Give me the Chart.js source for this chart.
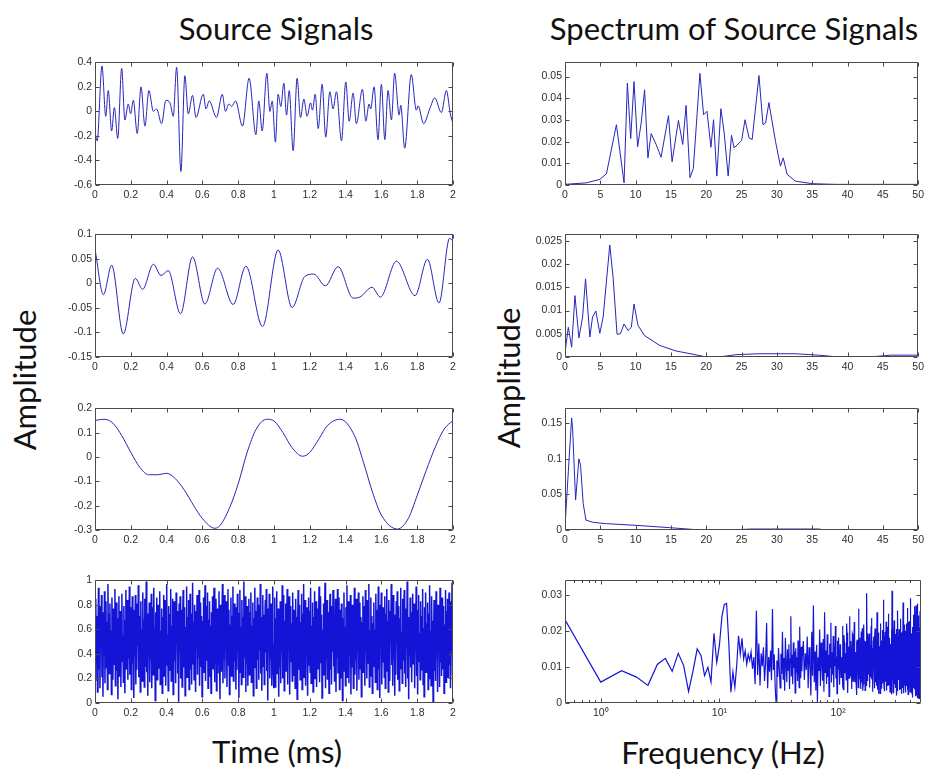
<!DOCTYPE html>
<html>
<head>
<meta charset="utf-8">
<title>Source Signals</title>
<script src="https://cdn.jsdelivr.net/npm/chart.js@4.4.1/dist/chart.umd.min.js"></script>
<style>
  html, body { margin: 0; padding: 0; background: #fff; }
  body { position: relative; width: 928px; height: 769px; overflow: hidden; }
  canvas { position: absolute; }
  .txt {
    position: absolute;
    font-family: Lato, "Open Sans", sans-serif;
    color: #111;
    white-space: nowrap;
    line-height: 1;
    transform: translate(-50%, -50%);
  }
  .big { font-size: 31px; }
  .vert { transform: translate(-50%, -50%) rotate(-90deg); }
</style>
</head>
<body>

<div class="txt big" style="left:276px; top:28px;">Source Signals</div>
<div class="txt big" style="left:734px; top:28px;">Spectrum of Source Signals</div>
<div class="txt big vert" style="left:24px; top:380px;">Amplitude</div>
<div class="txt big vert" style="left:508px; top:378px;">Amplitude</div>
<div class="txt big" style="left:277px; top:751px;">Time (ms)</div>
<div class="txt big" style="left:723px; top:752px;">Frequency (Hz)</div>

<canvas id="sig1"></canvas>
<canvas id="sig2"></canvas>
<canvas id="sig3"></canvas>
<canvas id="sig4"></canvas>
<canvas id="spec1"></canvas>
<canvas id="spec2"></canvas>
<canvas id="spec3"></canvas>
<canvas id="spec4"></canvas>

<script>
// ---- source 1: fast oscillating signal
const sig1Time = [0,0.012,0.039,0.06,0.074,0.093,0.108,0.127,0.149,0.167,0.186,0.199,0.214,0.236,0.257,0.279,0.301,0.326,0.344,0.372,0.396,0.419,0.437,0.456,0.48,0.502,0.521,0.545,0.564,0.605,0.62,0.638,0.679,0.711,0.729,0.748,0.763,0.785,0.824,0.861,0.899,0.915,0.934,0.96,0.977,0.99,1.008,1.023,1.038,1.055,1.07,1.085,1.107,1.129,1.148,1.167,1.185,1.204,1.215,1.23,1.247,1.269,1.289,1.312,1.33,1.349,1.377,1.401,1.42,1.442,1.46,1.494,1.513,1.531,1.54,1.559,1.581,1.6,1.619,1.637,1.656,1.674,1.699,1.708,1.73,1.767,1.795,1.805,1.836,1.87,1.898,1.935,1.963,1.985,2.0];
const sig1Amp = [-0.17,-0.24,0.37,-0.04,0.17,-0.16,0.03,-0.22,0.35,-0.07,0.06,-0.02,0.09,-0.18,0.2,-0.12,0.17,0.0,0.02,-0.1,0.09,0.07,-0.04,0.36,-0.49,0.29,-0.02,0.13,-0.05,0.14,0.02,0.085,-0.05,0.14,0.0,0.06,0.04,0.085,-0.12,0.27,-0.19,0.085,-0.16,0.31,0.0,0.085,-0.25,0.14,0.04,0.23,-0.03,0.17,-0.32,0.27,-0.05,0.1,-0.04,0.07,0.01,0.14,-0.14,0.22,-0.21,0.16,0.02,0.16,-0.24,0.24,-0.08,0.15,-0.1,0.18,-0.08,0.06,0.02,0.2,-0.23,0.22,-0.23,0.17,-0.07,0.31,-0.03,0.05,-0.3,0.3,0.01,0.045,-0.1,0.02,0.11,-0.01,0.17,-0.02,-0.1];

// ---- source 2: slower wobble
const sig2Time = [0,0.047,0.093,0.158,0.225,0.266,0.326,0.369,0.409,0.478,0.545,0.614,0.685,0.772,0.843,0.936,1.023,1.101,1.172,1.222,1.287,1.358,1.442,1.479,1.548,1.594,1.684,1.788,1.857,1.922,1.981,2.0];
const sig2Amp = [0.07,-0.023,0.037,-0.103,0.01,-0.012,0.039,0.016,0.026,-0.062,0.054,-0.042,0.031,-0.043,0.035,-0.088,0.068,-0.049,0.014,0.019,-0.005,0.034,-0.03,-0.028,-0.008,-0.028,0.045,-0.025,0.049,-0.04,0.092,0.086];

// ---- source 3: low frequency
const sig3Time = [0,0.05,0.1,0.15,0.2,0.25,0.3,0.35,0.4,0.45,0.5,0.55,0.6,0.67,0.7,0.75,0.8,0.85,0.9,0.96,1.0,1.05,1.1,1.16,1.2,1.25,1.3,1.37,1.45,1.5,1.55,1.6,1.69,1.75,1.8,1.85,1.9,1.95,2.0];
const sig3Amp = [0.15,0.155,0.139,0.087,0.019,-0.042,-0.073,-0.073,-0.067,-0.09,-0.137,-0.198,-0.253,-0.293,-0.28,-0.212,-0.11,0.019,0.114,0.155,0.148,0.1,0.039,0.003,0.019,0.073,0.13,0.155,0.087,-0.022,-0.144,-0.239,-0.296,-0.253,-0.158,-0.056,0.039,0.114,0.15];

// ---- source 4: uniform noise, equally spaced over 0..2 ms
const noiseAmp = [
  0.62,0.18,0.85,0.33,0.71,0.09,0.56,0.94,0.27,0.68,
  0.12,0.79,0.45,0.88,0.21,0.63,0.05,0.74,0.38,0.91,
  0.16,0.57,0.83,0.29,0.66,0.11,0.97,0.42,0.73,0.24,
  0.81,0.35,0.59,0.07,0.86,0.48,0.19,0.77,0.31,0.64,
  0.93,0.14,0.52,0.82,0.26,0.69,0.03,0.58,0.87,0.22,
  0.46,0.75,0.13,0.61,0.89,0.34,0.55,0.17,0.79,0.41,
  0.08,0.67,0.92,0.28,0.53,0.84,0.19,0.72,0.36,0.95,
  0.23,0.49,0.78,0.11,0.65,0.87,0.32,0.58,0.04,0.76,
  0.39,0.88,0.15,0.62,0.27,0.81,0.47,0.96,0.21,0.54,
  0.71,0.09,0.83,0.37,0.6,0.18,0.9,0.44,0.68,0.13,
  0.85,0.3,0.57,0.99,0.25,0.73,0.06,0.64,0.4,0.82,
  0.17,0.69,0.35,0.89,0.12,0.55,0.78,0.23,0.94,0.47,
  0.61,0.02,0.74,0.33,0.86,0.19,0.52,0.8,0.28,0.67,
  0.91,0.15,0.59,0.43,0.77,0.08,0.7,0.36,0.88,0.22,
  0.5,0.84,0.14,0.66,0.97,0.31,0.56,0.1,0.79,0.45,
  0.26,0.72,0.93,0.18,0.63,0.39,0.85,0.07,0.58,0.83,
  0.34,0.6,0.16,0.9,0.48,0.75,0.24,0.69,0.01,0.81,
  0.42,0.87,0.2,0.54,0.76,0.13,0.65,0.92,0.29,0.57,
  0.78,0.06,0.62,0.38,0.95,0.21,0.7,0.46,0.84,0.11,
  0.53,0.89,0.27,0.73,0.15,0.6,0.98,0.32,0.66,0.19,
  0.8,0.41,0.09,0.75,0.51,0.88,0.23,0.64,0.37,0.92,
  0.14,0.58,0.82,0.3,0.71,0.05,0.67,0.44,0.86,0.25,
  0.61,0.96,0.18,0.55,0.79,0.35,0.9,0.12,0.68,0.47,
  0.83,0.22,0.63,0.08,0.74,0.4,0.87,0.28,0.59,0.94,
  0.17,0.7,0.33,0.85,0.1,0.56,0.77,0.24,0.65,0.91,
  0.43,0.03,0.8,0.52,0.26,0.72,0.97,0.16,0.61,0.36,
  0.88,0.2,0.69,0.45,0.83,0.13,0.57,0.93,0.31,0.76,
  0.07,0.64,0.39,0.86,0.22,0.71,0.5,0.95,0.18,0.6,
  0.81,0.34,0.58,0.11,0.78,0.27,0.89,0.42,0.66,0.04,
  0.73,0.92,0.25,0.62,0.15,0.84,0.48,0.7,0.21,0.99,
  0.37,0.55,0.87,0.09,0.67,0.32,0.79,0.14,0.6,0.85,
  0.23,0.74,0.46,0.9,0.17,0.63,0.38,0.82,0.06,0.69,
  0.52,0.94,0.29,0.75,0.12,0.59,0.86,0.35,0.65,0.19,
  0.8,0.43,0.97,0.24,0.7,0.1,0.57,0.88,0.3,0.72,
  0.15,0.62,0.84,0.41,0.93,0.26,0.68,0.02,0.77,0.49,
  0.89,0.2,0.6,0.36,0.81,0.14,0.73,0.95,0.28,0.12,
  0.47,0.86,0.13,0.69,0.32,0.91,0.24,0.58,0.77,0.05,
  0.64,0.29,0.83,0.16,0.72,0.41,0.96,0.2,0.55,0.88,
  0.1,0.67,0.38,0.81,0.26,0.6,0.93,0.15,0.74,0.44,
  0.87,0.07,0.53,0.79,0.34,0.65,0.18,0.9,0.49,0.22,
  0.76,0.58,0.12,0.85,0.39,0.7,0.03,0.62,0.92,0.27,
  0.54,0.8,0.19,0.66,0.35,0.89,0.11,0.73,0.46,0.97,
  0.21,0.59,0.84,0.14,0.68,0.42,0.78,0.06,0.57,0.86,
  0.31,0.75,0.25,0.94,0.16,0.63,0.48,0.82,0.09,0.7,
  0.4,0.91,0.2,0.61,0.83,0.13,0.56,0.77,0.28,0.65,
  0.95,0.17,0.52,0.87,0.33,0.72,0.04,0.6,0.45,0.81,
  0.23,0.69,0.98,0.12,0.58,0.36,0.84,0.19,0.74,0.5,
  0.08,0.66,0.89,0.27,0.63,0.15,0.79,0.42,0.92,0.3,
  0.71,0.18,0.55,0.85,0.09,0.67,0.37,0.93,0.24,0.6,
  0.86,0.11,0.76,0.44,0.2,0.81,0.57,0.02,0.69,0.34,
  0.9,0.26,0.62,0.14,0.78,0.47,0.96,0.21,0.54,0.83,
  0.16,0.73,0.39,0.88,0.07,0.64,0.29,0.8,0.51,0.12,
  0.68,0.94,0.23,0.58,0.35,0.85,0.1,0.75,0.43,0.9,
  0.19,0.61,0.82,0.28,0.7,0.05,0.66,0.38,0.87,0.25,
  0.56,0.79,0.14,0.92,0.45,0.63,0.2,0.84,0.32,0.74,
  0.97,0.13,0.59,0.41,0.86,0.22,0.71,0.08,0.65,0.48,
  0.82,0.3,0.6,0.17,0.89,0.37,0.76,0.11,0.53,0.95,
  0.27,0.68,0.04,0.8,0.46,0.9,0.15,0.62,0.33,0.78,
  0.58,0.21,0.87,0.12,0.73,0.39,0.93,0.26,0.67,0.09,
  0.84,0.44,0.18,0.75,0.55,0.97,0.31,0.61,0.14,0.88,
  0.36,0.72,0.06,0.64,0.23,0.83,0.49,0.91,0.19,0.57,
  0.79,0.1,0.69,0.42,0.94,0.28,0.58,0.16,0.85,0.35,
  0.63,0.92,0.24,0.54,0.13,0.77,0.45,0.99,0.2,0.7,
  0.03,0.66,0.38,0.86,0.29,0.74,0.17,0.6,0.89,0.32,
  0.52,0.81,0.12,0.68,0.43,0.95,0.22,0.76,0.07,0.63,
  0.88,0.34,0.57,0.19,0.83,0.4,0.71,0.27,0.93,0.15,
  0.61,0.05,0.78,0.48,0.9,0.25,0.65,0.36,0.82,0.11,
  0.73,0.2,0.96,0.3,0.59,0.14,0.87,0.44,0.67,0.01,
  0.55,0.84,0.26,0.72,0.18,0.91,0.37,0.62,0.09,0.8,
  0.41,0.77,0.13,0.94,0.33,0.69,0.22,0.86,0.5,0.28,
  0.79,0.08,0.64,0.39,0.92,0.17,0.75,0.46,0.85,0.21,
  0.6,0.9,0.31,0.7,0.12,0.83,0.42,0.98,0.24,0.16
];
const noiseSpan = 2;

// ---- spectra
const spec1Freq = [0,3.05,4.93,5.87,7.28,8.36,8.83,9.3,9.77,10.28,10.8,11.27,11.74,12.2,12.9,13.6,14.65,15.16,16.06,16.67,17.14,17.7,18.17,19.1,19.62,20.1,20.66,21.03,21.5,22.07,22.54,23.1,23.57,23.94,25.0,25.49,26.06,26.5,27.46,28.03,28.4,28.87,29.8,30.5,30.9,31.45,32.6,35,38.3,50];
const spec1Amp = [0.0003,0.001,0.0026,0.0052,0.0278,0.001,0.047,0.0214,0.0477,0.0176,0.029,0.0439,0.0125,0.0237,0.0187,0.0128,0.032,0.0107,0.0298,0.0187,0.0367,0.0034,0.0076,0.0515,0.0324,0.034,0.0174,0.0301,0.0041,0.0352,0.024,0.0041,0.0229,0.0171,0.0205,0.0301,0.0217,0.021,0.0505,0.0278,0.0286,0.038,0.0202,0.0087,0.0125,0.0049,0.0018,0.0006,0.0003,0.0003];

const spec2Freq = [0,0.47,0.94,1.41,1.97,2.49,2.91,3.52,3.9,4.37,4.93,5.4,6.34,6.81,7.37,7.84,8.36,8.92,9.39,9.77,10.33,11.27,13.4,15.7,18.1,20,21.8,24.2,27.5,32.6,35.9,38.7,43,46.2,50];
const spec2Amp = [0.001,0.0064,0.0021,0.0132,0.0041,0.0086,0.0168,0.0043,0.0086,0.0099,0.0051,0.0086,0.0241,0.0171,0.0049,0.005,0.0071,0.0057,0.0064,0.0114,0.0068,0.0046,0.0025,0.0013,0.0006,0,0,0.0005,0.0007,0.0007,0.0004,0,0,0.0004,0.0004];

const spec3Freq = [0,0.47,0.94,1.08,1.5,1.97,2.2,2.58,2.96,4,5.87,10.1,14.8,18.5,24.2,26.5,35.9,36.8,50];
const spec3Amp = [0.005,0.082,0.1575,0.142,0.042,0.1,0.091,0.037,0.014,0.0107,0.0089,0.0065,0.0033,0.0005,0.0005,0.0014,0.0014,0,0];

// noise spectrum in three bands: 0.5..50 Hz every 0.5, 51..100 every 1, 101..500 every 1
const spec4BandLo = [
  0.0231,0.0058,0.009,0.0072,0.0049,0.0107,0.0124,0.0088,0.0138,0.0104,
  0.0032,0.009,0.015,0.0132,0.0076,0.0099,0.0058,0.0194,0.0113,0.016,
  0.024,0.0274,0.0277,0.0168,0.003,0.0086,0.0044,0.0105,0.0187,0.0136,
  0.018,0.0122,0.0145,0.0108,0.0135,0.0118,0.0142,0.0095,0.0128,0.0052,
  0.0256,0.0078,0.0165,0.0049,0.0138,0.0102,0.0155,0.0061,0.0112,0.0222,
  0.0041,0.0128,0.0087,0.0146,0.0063,0.0261,0.0092,0.0135,0.0048,0.0004,
  0.0118,0.0072,0.0153,0.0095,0.0042,0.0137,0.0081,0.0198,0.0066,0.0125,
  0.0034,0.0181,0.0107,0.0058,0.0149,0.0091,0.0163,0.0039,0.0122,0.0241,
  0.0074,0.0135,0.0052,0.0168,0.0097,0.0143,0.0028,0.0152,0.0086,0.0127,
  0.0061,0.0174,0.0105,0.0043,0.0212,0.0118,0.0069,0.0156,0.0088,0.0131
];
const spec4BandMid = [
  0.0172,0.0064,0.0138,0.0092,0.0185,0.0041,0.0155,0.0108,0.0021,0.0198,
  0.0076,0.0271,0.0058,0.0143,0.0035,0.0162,0.0003,0.0127,0.0089,0.0204,
  0.0047,0.0168,0.0112,0.0062,0.0178,0.0031,0.0252,0.0085,0.0146,0.0053,
  0.0191,0.0072,0.0134,0.0018,0.0165,0.0098,0.0223,0.0057,0.0141,0.0079,
  0.0186,0.0044,0.0157,0.0103,0.0214,0.0068,0.0129,0.0026,0.0173,0.0095
];
const spec4BandHi = [
  0.0182,0.0098,0.0051,0.0163,0.0146,0.0071,0.0093,0.0128,0.0214,0.0046,
  0.0037,0.0189,0.0168,0.0083,0.0112,0.0139,0.0064,0.0221,0.0195,0.0056,
  0.0028,0.0147,0.0157,0.0069,0.0241,0.0105,0.0076,0.0172,0.0133,0.0039,
  0.0045,0.0192,0.0188,0.0061,0.0098,0.0154,0.0225,0.0087,0.0059,0.0136,
  0.0142,0.0053,0.0022,0.0167,0.0176,0.0094,0.0107,0.0043,0.0262,0.0118,
  0.0068,0.0181,0.0151,0.0072,0.0039,0.0144,0.0199,0.0057,0.0087,0.0208,
  0.0127,0.0034,0.0053,0.0159,0.0218,0.0091,0.0114,0.0173,0.0035,0.0062,
  0.0171,0.0126,0.0082,0.0047,0.0305,0.0115,0.0061,0.0193,0.0148,0.0079,
  0.0104,0.0168,0.0193,0.0052,0.0043,0.0137,0.0161,0.0089,0.0072,0.0213,
  0.0236,0.0066,0.0094,0.0152,0.0139,0.0048,0.0031,0.0174,0.0184,0.0101,
  0.0117,0.0041,0.0057,0.0179,0.0207,0.0124,0.0079,0.0058,0.0166,0.0143,
  0.0048,0.0092,0.0252,0.0161,0.0101,0.0037,0.0135,0.0196,0.0026,0.0113,
  0.0189,0.0073,0.0066,0.0149,0.0158,0.0027,0.0109,0.0182,0.0221,0.0095,
  0.0041,0.0134,0.0174,0.0062,0.0088,0.0203,0.0131,0.0078,0.0054,0.0167,
  0.0287,0.0119,0.0096,0.0044,0.0152,0.0186,0.0033,0.0106,0.0197,0.0059,
  0.0071,0.0148,0.0143,0.0226,0.0118,0.0035,0.0062,0.0157,0.0212,0.0084,
  0.0047,0.0129,0.0169,0.0063,0.0092,0.0177,0.0248,0.0049,0.0058,0.0141,
  0.0181,0.0097,0.0124,0.0031,0.0037,0.0164,0.0156,0.0108,0.0083,0.0052,
  0.0203,0.0138,0.0069,0.0024,0.0312,0.0171,0.0106,0.0065,0.0145,0.0199,
  0.0029,0.0112,0.0177,0.0056,0.0097,0.0183,0.0229,0.0074,0.0052,0.0136,
  0.0164,0.0088,0.0115,0.0042,0.0044,0.0172,0.0192,0.0119,0.0078,0.0051,
  0.0141,0.0206,0.0021,0.0095,0.0186,0.0146,0.0103,0.0033,0.0257,0.0124,
  0.0064,0.0187,0.0149,0.0078,0.0091,0.0129,0.0205,0.0044,0.0036,0.0161,
  0.0171,0.0094,0.0122,0.0211,0.0059,0.0038,0.0234,0.0152,0.0085,0.0067,
  0.0138,0.0026,0.0047,0.0175,0.0196,0.0118,0.0074,0.0055,0.0162,0.0199,
  0.0109,0.0042,0.0279,0.0137,0.0056,0.0083,0.0153,0.0178,0.0027,0.0108,
  0.0183,0.0049,0.0095,0.0166,0.0218,0.0134,0.0068,0.0029,0.0147,0.0193,
  0.0039,0.0086,0.0201,0.0158,0.0113,0.0064,0.0082,0.0221,0.0173,0.0047,
  0.0051,0.0139,0.0264,0.0172,0.0098,0.0036,0.0136,0.0189,0.0024,0.0117,
  0.0189,0.0061,0.0072,0.0154,0.0155,0.0226,0.0119,0.0046,0.0043,0.0181,
  0.0227,0.0102,0.0087,0.0031,0.0168,0.0145,0.0061,0.0083,0.0291,0.0168,
  0.0104,0.0037,0.0142,0.0191,0.0032,0.0124,0.0194,0.0058,0.0077,0.0144,
  0.0159,0.0079,0.0015,0.0118,0.0211,0.0167,0.0093,0.0026,0.0137,0.0198,
  0.0054,0.0101,0.0245,0.0173,0.0081,0.0042,0.0176,0.0127,0.0038,0.0204,
  0.0148,0.0067,0.0107,0.0229,0.0269,0.0091,0.0062,0.0024,0.0185,0.0157,
  0.0019,0.0083,0.0163,0.0271,0.0096,0.0036,0.0232,0.0148,0.0048,0.0112,
  0.0152,0.0021,0.0112,0.0186,0.0071,0.0253,0.0276,0.0067,0.0089,0.0014,
  0.0135,0.0192,0.0012,0.0074,0.0198,0.0136,0.0066,0.0028,0.0243,0.0167,
  0.0084,0.0011,0.0161,0.0208,0.0034,0.0095,0.0209,0.0172,0.0102,0.0019,
  0.0255,0.0143,0.0057,0.0009,0.0178,0.0221,0.0023,0.0087,0.0121,0.0196
];

// ---- tick values
const timeTicks = [0,0.2,0.4,0.6,0.8,1,1.2,1.4,1.6,1.8,2];
const freqTicks = [0,5,10,15,20,25,30,35,40,45,50];
const logTicks = [0.6,0.7,0.8,0.9,1,2,3,4,5,6,7,8,9,10,20,30,40,50,60,70,80,90,100,200,300,400];
const sig1Ticks = [-0.6,-0.4,-0.2,0,0.2,0.4];
const sig2Ticks = [-0.15,-0.1,-0.05,0,0.05,0.1];
const sig3Ticks = [-0.3,-0.2,-0.1,0,0.1,0.2];
const sig4Ticks = [0,0.2,0.4,0.6,0.8,1];
const spec1Ticks = [0,0.01,0.02,0.03,0.04,0.05];
const spec2Ticks = [0,0.005,0.01,0.015,0.02,0.025];
const spec3Ticks = [0,0.05,0.1,0.15];
const spec4Ticks = [0,0.01,0.02,0.03];

const LINE = '#2626bc';
const LINE_DENSE = '#1414d6';
const TICK_FONT = { family: '"Liberation Sans", Arial, sans-serif', size: 10.5 };
const TICK_COLOR = '#2e2e2e';
const SUP = { 1: '10\u2070', 10: '10\u00b9', 100: '10\u00b2' };

// closed frame with inward tick marks on all four sides
const boxTicks = {
  id: 'boxTicks',
  afterDatasetsDraw(chart) {
    const { ctx, chartArea: a, scales } = chart;
    const L = Math.round(a.left) + 0.5, R = Math.round(a.right) - 0.5;
    const T = Math.round(a.top) + 0.5, B = Math.round(a.bottom) - 0.5;
    ctx.save();
    ctx.strokeStyle = '#4a4a4a';
    ctx.lineWidth = 1;
    ctx.beginPath();
    scales.x.ticks.forEach(t => {
      const px = Math.round(scales.x.getPixelForValue(t.value)) + 0.5;
      const len = t.minor ? 2.5 : 4;
      ctx.moveTo(px, B); ctx.lineTo(px, B - len);
      ctx.moveTo(px, T); ctx.lineTo(px, T + len);
    });
    scales.y.ticks.forEach(t => {
      const py = Math.round(scales.y.getPixelForValue(t.value)) + 0.5;
      ctx.moveTo(L, py); ctx.lineTo(L + 4, py);
      ctx.moveTo(R, py); ctx.lineTo(R - 4, py);
    });
    ctx.rect(L, T, R - L, B - T);
    ctx.stroke();
    ctx.restore();
  }
};

function toPoints(xs, ys) {
  return xs.map((x, i) => ({ x, y: ys[i] }));
}

function panel(id, box, points, xAxis, yAxis, style) {
  const c = document.getElementById(id);
  const padTop = 8, axisW = 45, axisH = 20;
  c.style.left = (box.left - axisW) + 'px';
  c.style.top = (box.top - padTop) + 'px';
  c.width = axisW + box.w + box.padRight;
  c.height = padTop + box.h + axisH;

  new Chart(c, {
    type: 'line',
    data: {
      datasets: [{
        data: points,
        borderColor: style.color,
        borderWidth: style.width,
        pointRadius: 0,
        fill: false,
        cubicInterpolationMode: style.smooth ? 'monotone' : 'default',
        tension: 0,
      }],
    },
    options: {
      responsive: false,
      animation: false,
      events: [],
      layout: { padding: { left: 0, top: padTop, right: box.padRight, bottom: 0 } },
      plugins: { legend: { display: false }, tooltip: { enabled: false } },
      scales: {
        x: {
          type: xAxis.type || 'linear',
          min: xAxis.min,
          max: xAxis.max,
          grid: { display: false, drawTicks: false },
          border: { display: false },
          ticks: {
            font: TICK_FONT,
            color: TICK_COLOR,
            padding: 4,
            autoSkip: false,
            maxRotation: 0,
            callback: xAxis.label || ((v) => String(v)),
          },
          afterBuildTicks: (s) => {
            s.ticks = xAxis.ticks.map(v => ({ value: v, minor: xAxis.minor ? xAxis.minor(v) : false }));
          },
          afterFit: (s) => { s.height = axisH; },
        },
        y: {
          min: yAxis.min,
          max: yAxis.max,
          grid: { display: false, drawTicks: false },
          border: { display: false },
          ticks: {
            font: TICK_FONT,
            color: TICK_COLOR,
            padding: 3,
            autoSkip: false,
            callback: (v) => String(v),
          },
          afterBuildTicks: (s) => { s.ticks = yAxis.ticks.map(v => ({ value: v })); },
          afterFit: (s) => { s.width = axisW; },
        },
      },
    },
    plugins: [boxTicks],
  });
}

const leftCol = { left: 95, w: 358, padRight: 8 };
const rightCol = { left: 565, w: 356, padRight: 7 };
const rows = [
  { top: 61, h: 124 },
  { top: 233, h: 124 },
  { top: 407, h: 123 },
  { top: 579, h: 124 },
];
const at = (col, row) => Object.assign({}, col, rows[row]);

const timeAxis = { min: 0, max: 2, ticks: timeTicks };
const freqAxis = { min: 0, max: 50, ticks: freqTicks };
const smoothLine = { color: LINE, width: 1, smooth: true };
const plainLine = { color: LINE, width: 1, smooth: false };
const noiseLine = { color: LINE_DENSE, width: 1.5, smooth: false };
const spectrumNoiseLine = { color: LINE_DENSE, width: 1.2, smooth: false };

panel('sig1', at(leftCol, 0), toPoints(sig1Time, sig1Amp), timeAxis,
  { min: -0.6, max: 0.4, ticks: sig1Ticks }, smoothLine);
panel('sig2', at(leftCol, 1), toPoints(sig2Time, sig2Amp), timeAxis,
  { min: -0.15, max: 0.1, ticks: sig2Ticks }, smoothLine);
panel('sig3', at(leftCol, 2), toPoints(sig3Time, sig3Amp), timeAxis,
  { min: -0.3, max: 0.2, ticks: sig3Ticks }, smoothLine);

const noisePoints = noiseAmp.map((y, i) => ({ x: i * noiseSpan / (noiseAmp.length - 1), y }));
panel('sig4', at(leftCol, 3), noisePoints, timeAxis,
  { min: 0, max: 1, ticks: sig4Ticks }, noiseLine);

panel('spec1', at(rightCol, 0), toPoints(spec1Freq, spec1Amp), freqAxis,
  { min: 0, max: 0.0566, ticks: spec1Ticks }, plainLine);
panel('spec2', at(rightCol, 1), toPoints(spec2Freq, spec2Amp), freqAxis,
  { min: 0, max: 0.0264, ticks: spec2Ticks }, plainLine);
panel('spec3', at(rightCol, 2), toPoints(spec3Freq, spec3Amp), freqAxis,
  { min: 0, max: 0.171, ticks: spec3Ticks }, plainLine);

const spec4Points = [
  ...spec4BandLo.map((y, i) => ({ x: 0.5 + i * 0.5, y })),
  ...spec4BandMid.map((y, i) => ({ x: 51 + i, y })),
  ...spec4BandHi.map((y, i) => ({ x: 101 + i, y })),
];
panel('spec4', at(rightCol, 3), spec4Points,
  {
    type: 'logarithmic', min: 0.5, max: 500, ticks: logTicks,
    minor: (v) => !(v in SUP),
    label: (v) => SUP[v] || '',
  },
  { min: 0, max: 0.0341, ticks: spec4Ticks }, spectrumNoiseLine);
</script>
</body>
</html>
